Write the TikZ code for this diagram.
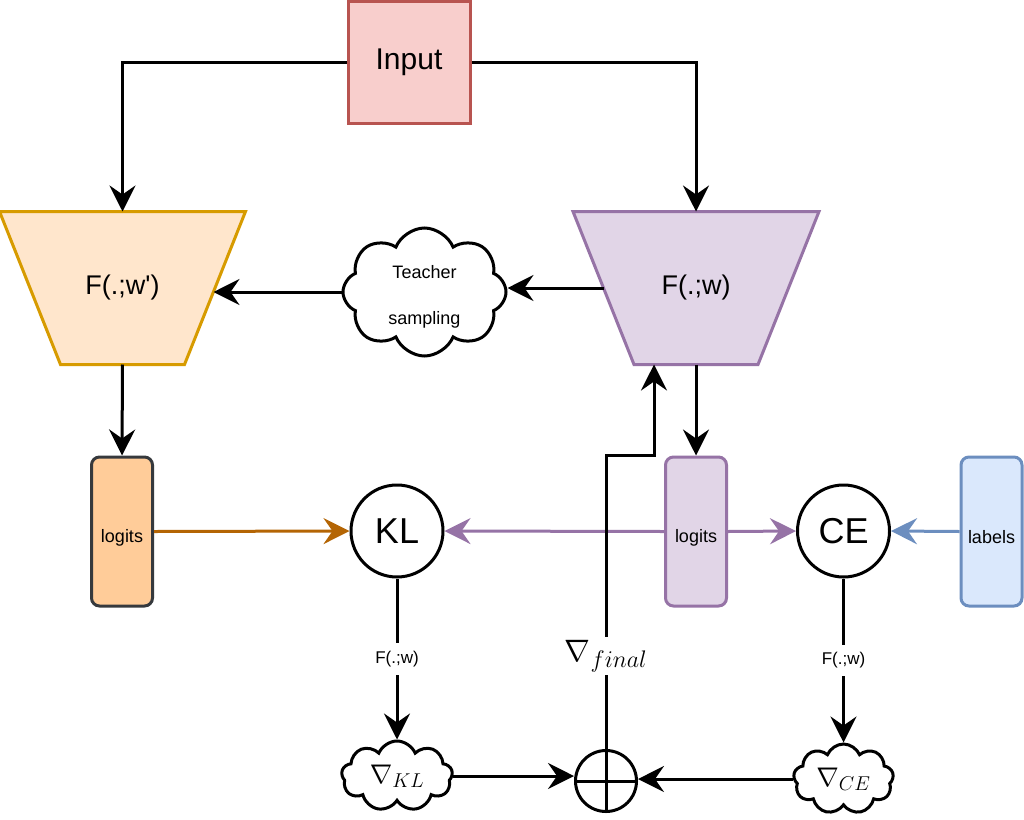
\RequirePackage{fix-cm}
\documentclass[tikz,border=0pt]{standalone}
\usepackage{fontspec}
\setmainfont{Liberation Sans}
\newfontfamily\plainsans{Liberation Sans}
\usetikzlibrary{shapes.geometric,shapes.symbols,arrows.meta,calc,backgrounds}
\DeclareMathSizes{31}{31}{24}{18}
\DeclareMathSizes{27}{27}{20}{15}
\definecolor{inFill}{HTML}{F8CECC}
\definecolor{inLine}{HTML}{B85450}
\definecolor{orFill}{HTML}{FFE6CC}
\definecolor{orLine}{HTML}{D79B00}
\definecolor{puFill}{HTML}{E1D5E7}
\definecolor{puLine}{HTML}{9673A6}
\definecolor{lgFill}{HTML}{FFCC99}
\definecolor{lgLine}{HTML}{36393D}
\definecolor{blFill}{HTML}{DAE8FC}
\definecolor{blLine}{HTML}{6C8EBF}
\definecolor{orArrow}{HTML}{B46504}
\newcommand{\lowertext}[2]{\raisebox{-#1}[\height][\depth]{#2}}
\begin{document}
\begin{tikzpicture}[x=1pt,y=-1pt,line width=3pt,
  arr/.style={-{Stealth[length=26pt,width=26pt,inset=9pt]}},
  fs/.style={font=\fontsize{#1}{#1}\selectfont},
  inputbox/.style={draw=inLine,fill=inFill,minimum width=122pt,minimum height=122pt,inner sep=0pt,fs=30},
  trapbox/.style={minimum width=243pt,minimum height=150pt,inner sep=0pt,fs=27},
  trapshape/.style={line width=3pt,line join=miter},
  logbox/.style={draw,rounded corners=8pt,minimum width=61pt,minimum height=149pt,inner sep=0pt,fs=18},
  losscirc/.style={draw,circle,fill=white,minimum size=92pt,inner sep=0pt,fs=36},
  cloudnode/.style={draw,cloud,cloud puffs=8,cloud puff arc=135,fill=white,inner sep=0pt},
  gradcloud/.style={cloudnode,cloud puffs=9,aspect=2,inner sep=-4pt,fs=27},
  elab/.style={fill=white,inner xsep=3pt,inner ysep=8pt,fs=17},
  mlab/.style={fill=white,inner sep=3pt,fs=31}
]
\useasboundingbox (0,0) rectangle (1024,819);
\begin{scope}[on background layer]
  \fill[white] (0,0) rectangle (1024,819);
\end{scope}

% nodes
\node[inputbox] (in) at (409,62) {Input};
\node[trapbox] (lt) at (122.5,288) {{\plainsans F(.;w')}};
\node[trapbox] (rt) at (696,288) {F(.;w)};
\begin{scope}[on background layer]
  \draw[trapshape,draw=orLine,fill=orFill] (lt.north west) -- (lt.north east) -- ($(lt.south east)+(-61,0)$) -- ($(lt.south west)+(61,0)$) -- cycle;
  \draw[trapshape,draw=puLine,fill=puFill] (rt.north west) -- (rt.north east) -- ($(rt.south east)+(-61,0)$) -- ($(rt.south west)+(61,0)$) -- cycle;
\end{scope}
\node[cloudnode,minimum width=163pt,minimum height=128pt,align=center,font=\fontsize{18}{46}\selectfont] (tsamp) at (424.5,292) {\lowertext{5pt}{Teacher}\\\lowertext{5pt}{sampling}};

\node[logbox,draw=lgLine,fill=lgFill] (llog) at (122,531.5) {\lowertext{6pt}{logits}};
\node[logbox,draw=puLine,fill=puFill] (rlog) at (696,531.5) {\lowertext{6pt}{logits}};
\node[logbox,draw=blLine,fill=blFill] (lab) at (991.5,531.5) {\lowertext{6pt}{labels}};

\node[losscirc] (kl) at (397,531) {KL};
\node[losscirc] (ce) at (843.5,531) {CE};

\node[gradcloud,minimum width=111pt,minimum height=70pt] (gkl) at (397,776) {$\nabla_{KL}$};
\node[gradcloud,minimum width=100pt,minimum height=70pt] (gce) at (843.5,779) {$\nabla_{CE}$};

\node[draw,circle,fill=white,minimum size=61pt,inner sep=0pt] (plus) at (606,781) {};
\draw (plus.north) -- (plus.south) (plus.west) -- (plus.east);

% connectors
\draw[arr] (in.west) -| (lt.north);
\draw[arr] (in.east) -| (rt.north);
\draw[arr] ($(rt.west)+(30.5,0)$) -- (tsamp.east |- rt.west);
\draw[arr] (tsamp.west) -- ($(tsamp.west -| lt.east)+(-32,0)$);
\draw[arr] (lt.south) -- (llog.north);
\draw[arr] (rt.south) -- (rlog.north);
\draw[arr,draw=orArrow,fill=orArrow] (llog.east) -- (kl.west);
\draw[arr,draw=puLine,fill=puLine] (rlog.west) -- (kl.east);
\draw[arr,draw=puLine,fill=puLine] (rlog.east) -- (ce.west);
\draw[arr,draw=blLine,fill=blLine] (lab.west) -- (ce.east);
\draw[arr] (kl.south) -- node[elab] {F(.;w)} (gkl.north);
\draw[arr] (ce.south) -- node[elab] {F(.;w)} (gce.north);
\draw[arr] (gkl.east) -- (gkl.east -| plus.west);
\draw[arr] (gce.west) -- (gce.west -| plus.east);
\draw[arr] (plus.north) -- node[mlab,pos=0.315] {$\nabla_{final}$} (plus.north |- 0,455) -| ($(rt.south)+(-42,0)$);
\end{tikzpicture}
\end{document}
